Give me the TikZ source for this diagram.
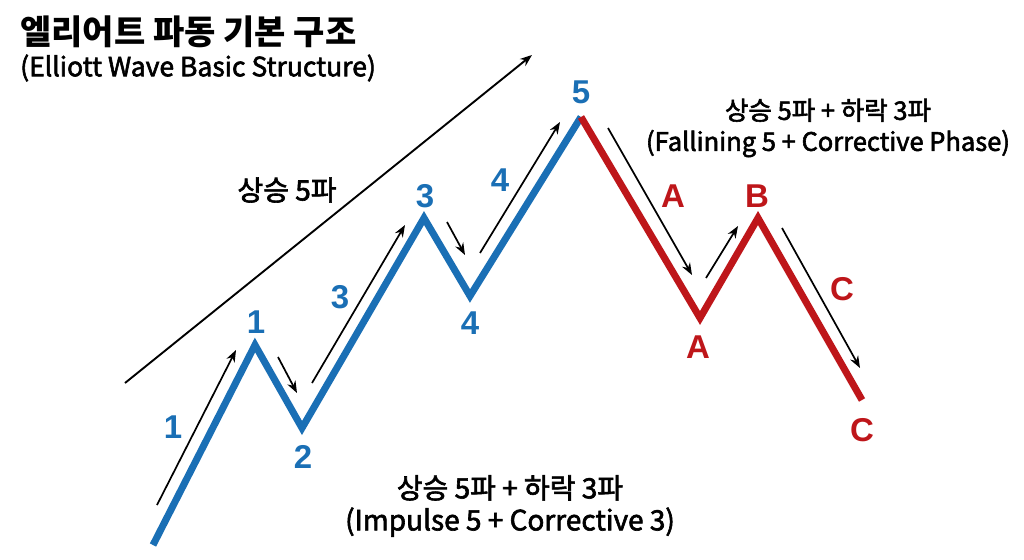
\documentclass[tikz,border=0pt]{standalone}
\usepackage{fontspec}
\newfontfamily\krfont{Noto Sans CJK KR}
\newfontfamily\krmed{Noto Sans CJK KR}[FakeBold=2.2]
\newfontfamily\numfont{Liberation Sans}
\usetikzlibrary{arrows.meta}
\definecolor{waveblue}{RGB}{26,111,181}
\definecolor{wavered}{RGB}{190,22,26}
\tikzset{
	impulse/.style={waveblue, line width=7pt, line join=miter},
	corrective/.style={wavered, line width=7pt, line join=miter},
	guide/.style={-{Stealth[length=12pt,width=9pt]}, line width=1.7pt},
	ptlabel/.style={font=\numfont\bfseries\fontsize{33}{33}\selectfont, inner sep=0pt},
	krtext/.style={font=\krmed\fontsize{27}{32}\selectfont, align=center, inner sep=0pt}
}
\begin{document}
\begin{tikzpicture}[x=1pt, y=-1pt]
	\useasboundingbox[fill=white] (0,0) rectangle (1024,559);
	
	% Title
	\node[anchor=west, font=\krfont\bfseries\fontsize{34}{40}\selectfont, inner sep=0pt] (title) at (20,32) {엘리어트 파동 기본 구조};
	\node[anchor=west, krtext, font=\krmed\fontsize{26.5}{30}\selectfont] (subtitle) at (20,68) {(Elliott Wave Basic Structure)};
	
	% Wave points
	\coordinate (w0) at (153,545);
	\coordinate (w1) at (255,345);
	\coordinate (w2) at (302,428);
	\coordinate (w3) at (424,218);
	\coordinate (w4) at (470,296);
	\coordinate (w5) at (581,117);
	\coordinate (wA) at (700,318);
	\coordinate (wB) at (758,218);
	\coordinate (wC) at (862,400);
	
	% Impulse and corrective waves
	\draw[impulse] (w0) -- (w1) -- (w2) -- (w3) -- (w4) -- (w5);
	\draw[corrective] (w5) -- (wA) -- (wB) -- (wC);
	
	% Point labels
	\node[ptlabel, waveblue] (p1) at (256,322) {1};
	\node[ptlabel, waveblue] (p2) at (303,457) {2};
	\node[ptlabel, waveblue] (p3) at (425,196) {3};
	\node[ptlabel, waveblue] (p4) at (470,323) {4};
	\node[ptlabel, waveblue] (p5) at (581,92) {5};
	\node[ptlabel, wavered] (pA) at (698,347) {A};
	\node[ptlabel, wavered] (pB) at (757,196) {B};
	\node[ptlabel, wavered] (pC) at (862,430) {C};
	
	% Leg labels
	\node[ptlabel, waveblue] (l1) at (173,427) {1};
	\node[ptlabel, waveblue] (l3) at (340,297) {3};
	\node[ptlabel, waveblue] (l4) at (500,180) {4};
	\node[ptlabel, wavered] (lA) at (673,196) {A};
	\node[ptlabel, wavered] (lC) at (842,289) {C};
	
	% Guide arrows along the legs
	\coordinate (s1) at (157,505); \coordinate (e1) at (236,350);
	\coordinate (s2) at (278,357); \coordinate (e2) at (297,393);
	\coordinate (s3) at (312,383); \coordinate (e3) at (405,225);
	\coordinate (s4) at (447,222); \coordinate (e4) at (465,255);
	\coordinate (s5) at (480,253); \coordinate (e5) at (560,122);
	\coordinate (s6) at (608,128); \coordinate (e6) at (692,275);
	\coordinate (s7) at (706,278); \coordinate (e7) at (738,226);
	\coordinate (s8) at (782,228); \coordinate (e8) at (860,368);
	\foreach \i in {1,...,8} {
		\draw[guide] (s\i) -- (e\i);
	}
	
	% Overall trend
	\coordinate (trendstart) at (125,383);
	\coordinate (trendend) at (532,55);
	\draw[guide, line width=1.9pt] (trendstart) -- (trendend);
	\node[krtext, font=\krmed\fontsize{28}{32}\selectfont] (trend) at (287,190) {상승 5파};
	
	% Captions
	\node[krtext, font=\krmed\fontsize{25.5}{31}\selectfont] (rightcap) at (828,128) {상승 5파 + 하락 3파\\(Fallining 5 + Corrective Phase)};
	\node[krtext, font=\krmed\fontsize{28}{32}\selectfont] (bottomcap) at (510,506) {상승 5파 + 하락 3파\\(Impulse 5 + Corrective 3)};
\end{tikzpicture}
\end{document}
